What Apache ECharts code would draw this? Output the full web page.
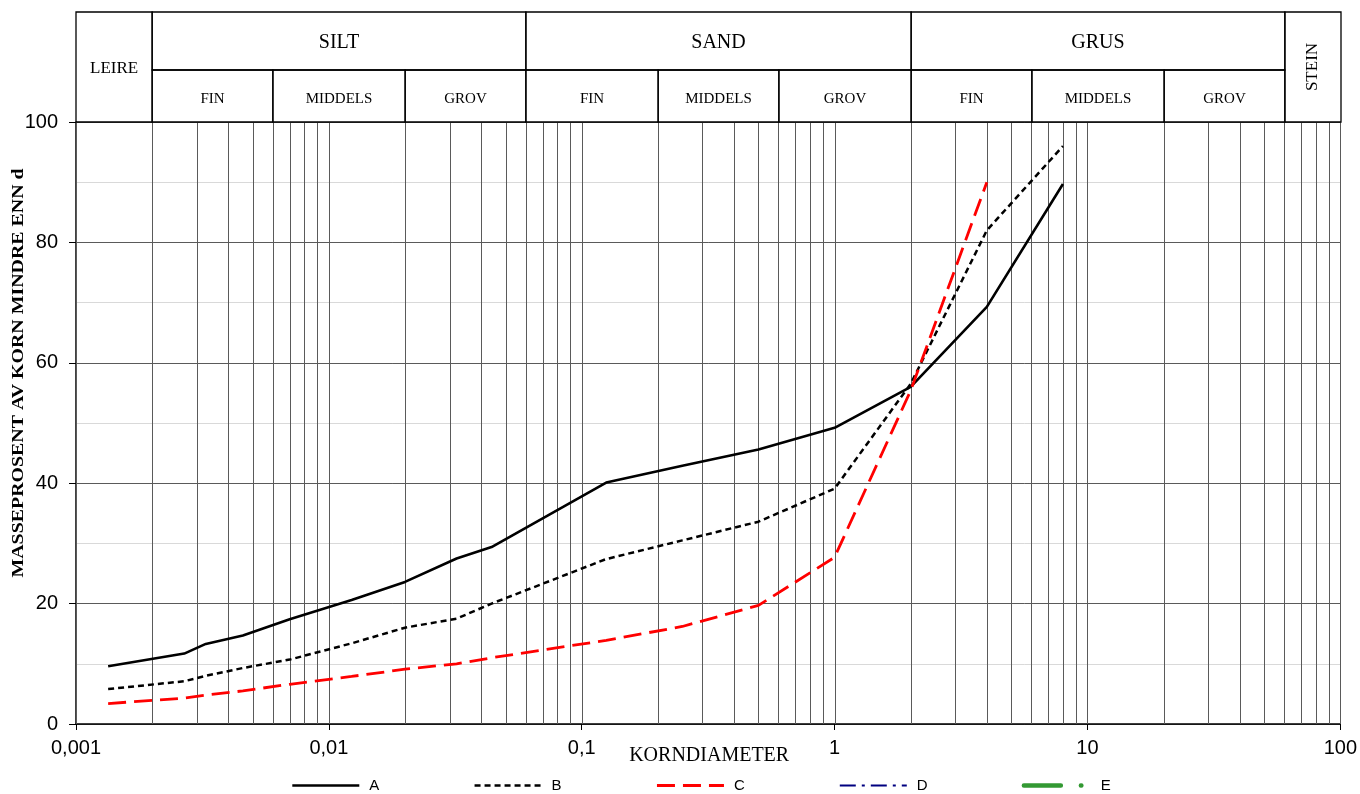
<!DOCTYPE html>
<html>
<head>
<meta charset="utf-8">
<title>Kornfordeling</title>
<script src="https://cdn.jsdelivr.net/npm/echarts@6/dist/echarts.min.js"></script>
<style>
  html, body { margin: 0; padding: 0; background: #fff; }
  #chart { width: 1360px; height: 794px; }
</style>
</head>
<body>
<div id="chart"></div>
<script>
// Grain diameters (mm) of the measured points, shared by all samples
const diameters = [0.00134, 0.00268, 0.00326, 0.00457, 0.0070, 0.0123, 0.020, 0.032, 0.044, 0.125, 0.25, 0.5, 1, 2, 4, 8];

// Mass percent finer than d for each sample
const sampleA = [9.6, 11.7, 13.3, 14.7, 17.4, 20.6, 23.6, 27.5, 29.4, 40.1, 42.9, 45.6, 49.2, 56.0, 69.3, 89.7];
const sampleB = [5.8, 7.1, 8.0, 9.3, 10.7, 13.4, 16.0, 17.5, 20.0, 27.4, 30.5, 33.6, 39.1, 56.5, 82.0, 96.0];
const sampleC = [3.4, 4.3, 4.8, 5.5, 6.6, 7.9, 9.1, 10.0, 11.0, 13.9, 16.2, 19.7, 27.7, 55.4, 90.0, null];
const sampleD = [];
const sampleE = [];

const seriesNames = ['A', 'B', 'C', 'D', 'E'];

// Tick labels of the logarithmic diameter axis (decimal comma)
const xTickLabels = ['0,001', '0,01', '0,1', '1', '10', '100'];
const yTickLabels = ['0', '20', '40', '60', '80', '100'];

// Soil fraction classes (grain size limits in mm)
const fractionGroups = [
  { name: 'LEIRE', from: 0.001, to: 0.002, full: true },
  { name: 'SILT',  from: 0.002, to: 0.06 },
  { name: 'SAND',  from: 0.06,  to: 2 },
  { name: 'GRUS',  from: 2,     to: 60 },
  { name: 'STEIN', from: 60,    to: 100, full: true, vertical: true }
];
const fractionSubs = [
  { name: 'FIN',     from: 0.002, to: 0.006 },
  { name: 'MIDDELS', from: 0.006, to: 0.02 },
  { name: 'GROV',    from: 0.02,  to: 0.06 },
  { name: 'FIN',     from: 0.06,  to: 0.2 },
  { name: 'MIDDELS', from: 0.2,   to: 0.6 },
  { name: 'GROV',    from: 0.6,   to: 2 },
  { name: 'FIN',     from: 2,     to: 6 },
  { name: 'MIDDELS', from: 6,     to: 20 },
  { name: 'GROV',    from: 20,    to: 60 }
];

// Vertical grid lines at 1..9 x each decade
const gridMultipliers = [1, 2, 3, 4, 5, 6, 7, 8, 9];
const gridDecades = [0.001, 0.01, 0.1, 1, 10];

const SANS = '"Liberation Sans", Arial, sans-serif';
const SERIF = '"Liberation Serif", "Times New Roman", serif';

function pairs(values) {
  return diameters.map((d, i) => [d, values[i] === undefined ? null : values[i]]);
}

const vLines = [];
gridDecades.forEach(dec => gridMultipliers.forEach(m => vLines.push(+(m * dec).toPrecision(6))));
vLines.push(100);

const HEADER_TOP_ROW = 58;

function renderGridLine(params, api) {
  const v = api.value(0);
  const p0 = api.coord([v, 0]);
  const p1 = api.coord([v, 100]);
  const x = Math.round(p0[0]) + 0.5;
  return {
    type: 'line',
    shape: { x1: x, y1: p0[1], x2: x, y2: p1[1] },
    style: { stroke: '#5a5a5a', lineWidth: 1 }
  };
}

function renderGroup(params, api) {
  const cell = fractionGroups[params.dataIndex];
  const cs = params.coordSys;
  const x0 = api.coord([cell.from, 0])[0];
  const x1 = api.coord([cell.to, 0])[0];
  const y0 = cs.y;
  const y1 = cell.full ? cs.y + cs.height : cs.y + HEADER_TOP_ROW;
  return {
    type: 'group',
    children: [
      { type: 'rect', shape: { x: x0, y: y0, width: x1 - x0, height: y1 - y0 },
        style: { fill: null, stroke: '#000', lineWidth: 1.3 } },
      { type: 'text', x: (x0 + x1) / 2, y: (y0 + y1) / 2 + (cell.vertical ? 0 : 2),
        rotation: cell.vertical ? Math.PI / 2 : 0,
        style: { text: cell.name, fill: '#000', align: 'center', verticalAlign: 'middle',
                 font: (cell.full ? '17px ' : '20px ') + SERIF } }
    ]
  };
}

function renderSub(params, api) {
  const cell = fractionSubs[params.dataIndex];
  const cs = params.coordSys;
  const x0 = api.coord([cell.from, 0])[0];
  const x1 = api.coord([cell.to, 0])[0];
  const y0 = cs.y + HEADER_TOP_ROW;
  const y1 = cs.y + cs.height;
  return {
    type: 'group',
    children: [
      { type: 'rect', shape: { x: x0, y: y0, width: x1 - x0, height: y1 - y0 },
        style: { fill: null, stroke: '#000', lineWidth: 1.3 } },
      { type: 'text', x: (x0 + x1) / 2, y: (y0 + y1) / 2 + 3,
        style: { text: cell.name, fill: '#000', align: 'center', verticalAlign: 'middle',
                 font: '15px ' + SERIF } }
    ]
  };
}

const chart = echarts.init(document.getElementById('chart'), null, { renderer: 'canvas' });

const option = {
  animation: false,
  backgroundColor: '#fff',
  grid: [
    { left: 76, right: 19, top: 122, bottom: 70 },
    { left: 76, right: 19, top: 12, height: 110 }
  ],
  xAxis: [
    {
      type: 'log', logBase: 10, min: 0.001, max: 100, gridIndex: 0,
      name: 'KORNDIAMETER', nameLocation: 'middle', nameGap: 22, nameMoveOverlap: false,
      nameTextStyle: { fontFamily: SERIF, fontSize: 20, color: '#000', padding: [0, 0, 0, 2] },
      axisLine: { show: true, lineStyle: { color: '#000', width: 1.5 } },
      axisTick: { show: true, length: 6, lineStyle: { color: '#000' } },
      axisLabel: {
        fontFamily: SANS, fontSize: 20, color: '#000', margin: 14,
        formatter: v => xTickLabels[Math.round(Math.log10(v)) + 3]
      },
      splitLine: { show: false },
      minorTick: { show: false },
      minorSplitLine: { show: false }
    },
    { type: 'log', logBase: 10, min: 0.001, max: 100, gridIndex: 1, show: false }
  ],
  yAxis: [
    {
      type: 'value', min: 0, max: 100, interval: 20, gridIndex: 0,
      axisLine: { show: true, lineStyle: { color: '#000', width: 1.5 } },
      axisTick: { show: true, length: 7, lineStyle: { color: '#000' } },
      axisLabel: {
        fontFamily: SANS, fontSize: 20, color: '#000', margin: 18,
        formatter: v => yTickLabels[Math.round(v / 20)]
      },
      splitLine: { show: true, lineStyle: { color: '#5a5a5a', width: 1 } },
      minorTick: { show: false, splitNumber: 2 },
      minorSplitLine: { show: true, lineStyle: { color: '#d9d9d9', width: 1 } }
    },
    { type: 'value', min: 0, max: 1, gridIndex: 1, show: false }
  ],
  legend: {
    data: seriesNames,
    left: 291, top: 778, padding: 0,
    itemWidth: 67, itemHeight: 16, itemGap: 94,
    itemStyle: { opacity: 0, borderWidth: 0 },
    lineStyle: { width: 'inherit' },
    textStyle: { fontFamily: SANS, fontSize: 15, color: '#000', padding: [0, 0, 0, 5] }
  },
  graphic: [
    {
      type: 'text', x: 19, y: 373, rotation: Math.PI / 2, scaleX: 1.17,
      style: {
        text: 'MASSEPROSENT AV KORN MINDRE ENN d', fill: '#000',
        align: 'center', verticalAlign: 'middle',
        font: 'bold 17px ' + SERIF
      }
    }
  ],
  series: [
    {
      name: 'vgrid', type: 'custom', xAxisIndex: 0, yAxisIndex: 0, silent: true, z: 1,
      data: vLines.map(v => [v]),
      encode: { x: 0 },
      renderItem: renderGridLine, clip: false
    },
    {
      name: 'A', type: 'line', data: pairs(sampleA), symbol: 'none', z: 5,
      lineStyle: { color: '#000', width: 2.6, type: 'solid' }, itemStyle: { color: '#000' }
    },
    {
      name: 'B', type: 'line', data: pairs(sampleB), symbol: 'none', z: 5,
      lineStyle: { color: '#000', width: 2.5, type: [6, 4] }, itemStyle: { color: '#000' }
    },
    {
      name: 'C', type: 'line', data: pairs(sampleC), symbol: 'none', z: 6,
      lineStyle: { color: '#ff0000', width: 2.8, type: [18, 8] }, itemStyle: { color: '#ff0000' }
    },
    {
      name: 'D', type: 'line', data: sampleD, symbol: 'none',
      lineStyle: { color: '#000080', width: 2, type: [16, 6, 3, 6] }, itemStyle: { color: '#000080' }
    },
    {
      name: 'E', type: 'line', data: sampleE, symbol: 'none',
      lineStyle: { color: '#339933', width: 4.5, type: [37, 20, 0.5, 40], cap: 'round' }, itemStyle: { color: '#339933' }
    },
    {
      name: 'groups', type: 'custom', xAxisIndex: 1, yAxisIndex: 1, silent: true,
      data: fractionGroups.map(c => [c.from, c.to]),
      encode: { x: [0, 1] },
      renderItem: renderGroup, clip: false
    },
    {
      name: 'subs', type: 'custom', xAxisIndex: 1, yAxisIndex: 1, silent: true,
      data: fractionSubs.map(c => [c.from, c.to]),
      encode: { x: [0, 1] },
      renderItem: renderSub, clip: false
    }
  ]
};

chart.setOption(option);
</script>
</body>
</html>
